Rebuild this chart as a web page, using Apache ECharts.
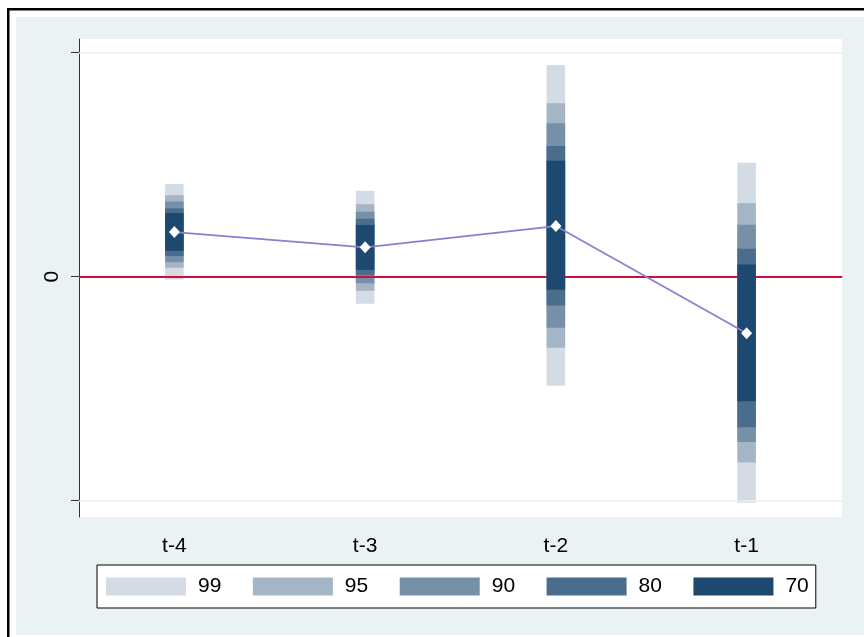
<!DOCTYPE html>
<html>
<head>
<meta charset="utf-8">
<style>
  html, body { margin: 0; padding: 0; background: #ffffff; }
  #chart { width: 864px; height: 637px; }
</style>
<script src="https://cdn.jsdelivr.net/npm/echarts@6/dist/echarts.min.js"></script>
</head>
<body>
<div id="chart"></div>
<script>
// Periods before treatment
const categories = ['t-4', 't-3', 't-2', 't-1'];

// Point estimates
const estimates = [0.199, 0.131, 0.226, -0.253];

// Confidence interval bounds by level
const lo99 = [-0.013, -0.121, -0.487, -1.009];
const hi99 = [0.414, 0.383, 0.945, 0.509];
const lo95 = [0.040, -0.063, -0.317, -0.830];
const hi95 = [0.363, 0.323, 0.774, 0.328];
const lo90 = [0.064, -0.029, -0.228, -0.738];
const hi90 = [0.335, 0.290, 0.685, 0.232];
const lo80 = [0.092, 0.006, -0.129, -0.672];
const hi80 = [0.305, 0.258, 0.583, 0.125];
const lo70 = [0.115, 0.030, -0.059, -0.556];
const hi70 = [0.284, 0.231, 0.517, 0.054];

// Interval levels (legend order) and their shades
const levels = ['99', '95', '90', '80', '70'];
const levelColors = ['#d3dbe4', '#a4b5c5', '#7790a9', '#4a6d8d', '#1d4870'];
const bounds = [[lo99, hi99], [lo95, hi95], [lo90, hi90], [lo80, hi80], [lo70, hi70]];

// Y axis tick marks and labels
const yTicks = [-1, 0, 1];
const yLabels = [0];

const BG = '#eaf2f3';
const BAR_W = 18.5;

function bandRender(params, api) {
  const x = api.value(0);
  const top = api.coord([x, api.value(2)]);
  const bot = api.coord([x, api.value(1)]);
  return {
    type: 'rect',
    shape: { x: top[0] - BAR_W / 2, y: top[1], width: BAR_W, height: bot[1] - top[1] },
    style: { fill: api.visual('color') }
  };
}

const bandSeries = levels.map((lv, i) => ({
  name: lv,
  type: 'custom',
  renderItem: bandRender,
  itemStyle: { color: levelColors[i] },
  encode: { x: 0, y: [1, 2] },
  data: categories.map((c, k) => [k, bounds[i][0][k], bounds[i][1][k]]),
  z: 2 + i,
  silent: true
}));

const chart = echarts.init(document.getElementById('chart'), null, { renderer: 'canvas' });

chart.setOption({
  animation: false,
  backgroundColor: '#ffffff',
  textStyle: { fontFamily: 'Liberation Sans, Arial, sans-serif' },
  graphic: [
    { type: 'rect', z: -10, shape: { x: 16, y: 17, width: 848, height: 618 }, style: { fill: BG } },
    { type: 'rect', z: -10, shape: { x: 7, y: 8, width: 857, height: 2.5 }, style: { fill: '#000' } },
    { type: 'rect', z: -10, shape: { x: 7, y: 8, width: 2.5, height: 629 }, style: { fill: '#000' } }
  ],
  grid: {
    left: 79, top: 39, width: 763, height: 478,
    show: true, backgroundColor: '#ffffff', borderWidth: 0
  },
  legend: {
    data: levels,
    left: 97, top: 565,
    orient: 'horizontal',
    padding: [11, 7, 11, 9],
    itemWidth: 80, itemHeight: 18, itemGap: 31.5,
    icon: 'rect',
    borderColor: '#000', borderWidth: 1,
    backgroundColor: '#ffffff',
    textStyle: { fontSize: 21, color: '#000', padding: [0, 0, 0, 7] },
    selectedMode: false
  },
  xAxis: {
    type: 'category',
    data: categories,
    boundaryGap: true,
    axisLine: { lineStyle: { color: '#333', width: 1 } },
    axisTick: { alignWithLabel: true, interval: 0, length: 7, lineStyle: { color: '#333' } },
    axisLabel: { fontSize: 21, color: '#000', margin: 19 },
    splitLine: { show: false }
  },
  yAxis: {
    type: 'value',
    min: -1.073, max: 1.061,
    axisLine: { show: true, lineStyle: { color: '#333', width: 1 } },
    axisTick: { show: true, customValues: yTicks, length: 8, lineStyle: { color: '#333' } },
    axisLabel: { customValues: yLabels, rotate: 90, fontSize: 21, color: '#000', margin: 16 },
    splitLine: { show: false }
  },
  series: [
    {
      name: 'ref',
      type: 'line',
      data: [],
      silent: true,
      z: 1,
      markLine: {
        silent: true, symbol: 'none', label: { show: false },
        data: [
          { yAxis: 1, lineStyle: { color: BG, width: 1.5, type: 'solid' } },
          { yAxis: -1, lineStyle: { color: BG, width: 1.5, type: 'solid' } },
          { yAxis: 0, lineStyle: { color: '#c8103c', width: 2, type: 'solid' } }
        ]
      }
    },
    ...bandSeries,
    {
      name: 'estimate',
      type: 'line',
      data: estimates,
      z: 10,
      lineStyle: { color: '#8a7fd0', width: 1.8 },
      symbol: 'diamond',
      symbolSize: [11, 12],
      itemStyle: { color: '#ffffff', borderWidth: 0 },
      silent: true
    }
  ]
});
</script>
</body>
</html>
